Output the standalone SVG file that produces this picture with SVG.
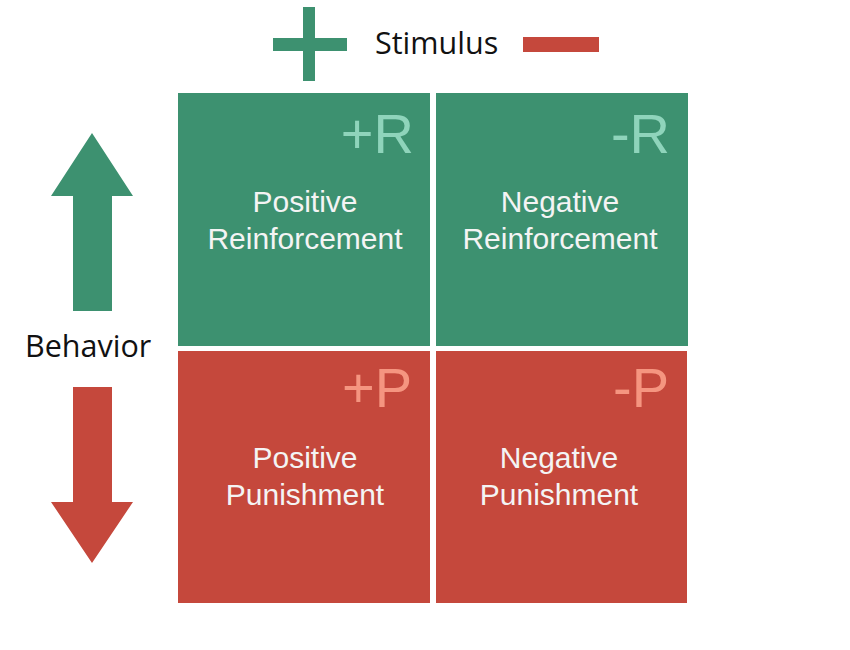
<svg xmlns="http://www.w3.org/2000/svg" width="850" height="650" viewBox="0 0 850 650">
<style>
.g{fill:#3d9170}
.r{fill:#c5483c}
.lbl{font-family:"Open Sans","Noto Sans",sans-serif;font-size:30.5px;fill:#111}
.t{font-family:"Liberation Sans",Arial,sans-serif;font-size:30px;fill:#f4f4f4;text-anchor:middle}
.tg{font-family:"Liberation Sans",Arial,sans-serif;font-size:56px;fill:#8fd4bb;text-anchor:end}
.tr{font-family:"Liberation Sans",Arial,sans-serif;font-size:56px;fill:#f59580;text-anchor:end}
</style>
<rect width="850" height="650" fill="#fff"/>
<g id="stimulus">
<rect class="g" x="303" y="7" width="12" height="74"/>
<rect class="g" x="273" y="38" width="74" height="13"/>
<text class="lbl" x="375" y="54">Stimulus</text>
<rect class="r" x="523" y="37" width="76" height="15"/>
</g>
<g id="behavior">
<polygon class="g" points="92,133 133,196 112,196 112,311 73,311 73,196 51,196"/>
<text class="lbl" x="25" y="357">Behavior</text>
<polygon class="r" points="73,387 112,387 112,502 133,502 92,563 51,502 73,502"/>
</g>
<g id="pos-reinforcement">
<rect class="g" x="178" y="93" width="252" height="253"/>
<text class="tg" x="414" y="153">+R</text>
<text class="t" x="305" y="212">Positive</text>
<text class="t" x="305" y="249">Reinforcement</text>
</g>
<g id="neg-reinforcement">
<rect class="g" x="436" y="93" width="252" height="253"/>
<text class="tg" x="670" y="153">-R</text>
<text class="t" x="560" y="212">Negative</text>
<text class="t" x="560" y="249">Reinforcement</text>
</g>
<g id="pos-punishment">
<rect class="r" x="178" y="351" width="252" height="252"/>
<text class="tr" x="412" y="407">+P</text>
<text class="t" x="305" y="468">Positive</text>
<text class="t" x="305" y="505">Punishment</text>
</g>
<g id="neg-punishment">
<rect class="r" x="436" y="351" width="251" height="252"/>
<text class="tr" x="669" y="407">-P</text>
<text class="t" x="559" y="468">Negative</text>
<text class="t" x="559" y="505">Punishment</text>
</g>
<g id="connectors"/>
</svg>
